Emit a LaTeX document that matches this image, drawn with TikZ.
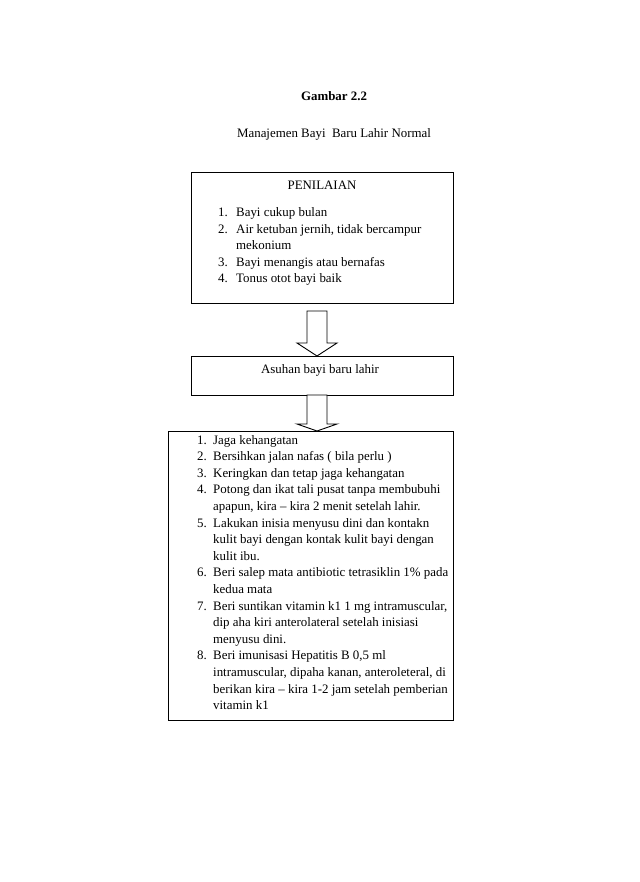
\documentclass[tikz,border=0pt]{standalone}
\usepackage{fontspec}
\setmainfont{Liberation Serif}
\usetikzlibrary{calc}
\tikzset{
  boxstyle/.style={draw=black, line width=0.9pt, inner sep=0pt, fill=none},
  txt/.style={anchor=base west, inner sep=0pt, font=\fontsize{12.9}{15}\selectfont},
  ctxt/.style={anchor=base, inner sep=0pt, font=\fontsize{12.9}{15}\selectfont},
  blockarrow/.style={draw=black, line width=0.9pt, fill=white, line join=miter}
}
\newcommand\mkline[4]{\node[txt] (#1) at (#2,#3) {#4};}
\newcommand\mkarrow[4]{% x, top, headY, tip
  \draw[blockarrow] ({#1-10},#2) -- ({#1+10},#2) -- ({#1+10},#3) -- ({#1+20},#3) -- (#1,#4) -- ({#1-20},#3) -- ({#1-10},#3) -- cycle;}
\begin{document}
\begin{tikzpicture}[x=1pt,y=-1pt]
\useasboundingbox (0,0) rectangle (639,882);
\fill[white] (0,0) rectangle (639,882);

% titles
\node[ctxt, font=\fontsize{12.9}{15}\selectfont\bfseries] (title) at (334,101) {Gambar 2.2};
\node[ctxt] (subtitle) at (334,138) {Manajemen Bayi\ \ Baru Lahir Normal};

% boxes
\node[boxstyle, minimum width=262pt, minimum height=131pt] (box1) at (322,237.5) {};
\node[boxstyle, minimum width=262pt, minimum height=39pt] (box2) at (322,375.5) {};
\node[boxstyle, minimum width=285pt, minimum height=289pt] (box3) at (310.5,575.5) {};

% box 1 text
\node[ctxt] (pen) at (322,190) {PENILAIAN};
\mkline{a1n}{218}{217}{1.}
\mkline{a1t}{236}{217}{Bayi cukup bulan}
\mkline{a2n}{218}{233.5}{2.}
\mkline{a2t}{236}{233.5}{Air ketuban jernih, tidak bercampur}
\mkline{a2u}{236}{250}{mekonium}
\mkline{a3n}{218}{266.5}{3.}
\mkline{a3t}{236}{266.5}{Bayi menangis atau bernafas}
\mkline{a4n}{218}{283}{4.}
\mkline{a4t}{236}{283}{Tonus otot bayi baik}

% box 2 text
\node[ctxt] (asuhan) at (320,373.5) {Asuhan bayi baru lahir};

% box 3 text
\def\nx{197}\def\tx{213}\def\ls{16.6}
\mkline{b1n}{\nx}{444}{1.}
\mkline{b1t}{\tx}{444}{Jaga kehangatan}
\mkline{b2n}{\nx}{{444+1*\ls}}{2.}
\mkline{b2t}{\tx}{{444+1*\ls}}{Bersihkan jalan nafas ( bila perlu )}
\mkline{b3n}{\nx}{{444+2*\ls}}{3.}
\mkline{b3t}{\tx}{{444+2*\ls}}{Keringkan dan tetap jaga kehangatan}
\mkline{b4n}{\nx}{{444+3*\ls}}{4.}
\mkline{b4t}{\tx}{{444+3*\ls}}{Potong dan ikat tali pusat tanpa membubuhi}
\mkline{b4u}{\tx}{{444+4*\ls}}{apapun, kira – kira 2 menit setelah lahir.}
\mkline{b5n}{\nx}{{444+5*\ls}}{5.}
\mkline{b5t}{\tx}{{444+5*\ls}}{Lakukan inisia menyusu dini dan kontakn}
\mkline{b5u}{\tx}{{444+6*\ls}}{kulit bayi dengan kontak kulit bayi dengan}
\mkline{b5v}{\tx}{{444+7*\ls}}{kulit ibu.}
\mkline{b6n}{\nx}{{444+8*\ls}}{6.}
\mkline{b6t}{\tx}{{444+8*\ls}}{Beri salep mata antibiotic tetrasiklin 1\% pada}
\mkline{b6u}{\tx}{{444+9*\ls}}{kedua mata}
\mkline{b7n}{\nx}{{444+10*\ls}}{7.}
\mkline{b7t}{\tx}{{444+10*\ls}}{Beri suntikan vitamin k1 1 mg intramuscular,}
\mkline{b7u}{\tx}{{444+11*\ls}}{dip aha kiri anterolateral setelah inisiasi}
\mkline{b7v}{\tx}{{444+12*\ls}}{menyusu dini.}
\mkline{b8n}{\nx}{{444+13*\ls}}{8.}
\mkline{b8t}{\tx}{{444+13*\ls}}{Beri imunisasi Hepatitis B 0,5 ml}
\mkline{b8u}{\tx}{{444+14*\ls}}{intramuscular, dipaha kanan, anteroleteral, di}
\mkline{b8v}{\tx}{{444+15*\ls}}{berikan kira – kira 1-2 jam setelah pemberian}
\mkline{b8w}{\tx}{{444+16*\ls}}{vitamin k1}

% block arrows between boxes
\mkarrow{317}{311}{343}{356}
\mkarrow{317}{395}{424}{431}
\end{tikzpicture}
\end{document}
